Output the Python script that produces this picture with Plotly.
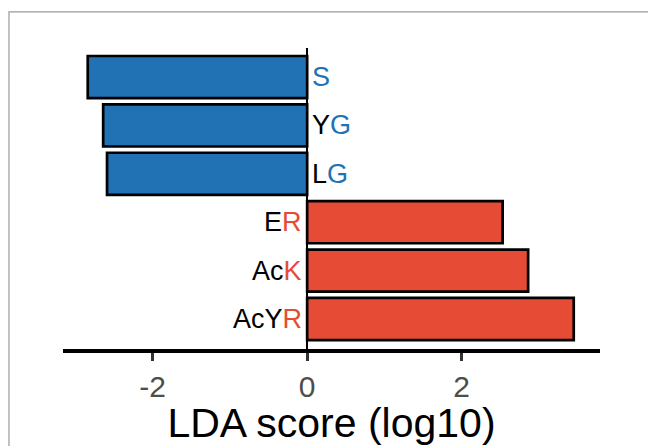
import plotly.graph_objects as go

# LEfSe-style LDA scores per feature (bottom to top)
features = ["AcYR", "AcK", "ER", "LG", "YG", "S"]
label_head = ["AcY", "Ac", "E", "L", "Y", ""]
label_tail = ["R", "K", "R", "G", "G", "S"]
lda_scores = [3.45, 2.86, 2.53, -2.59, -2.64, -2.84]

RED = "#E64B35"
BLUE = "#2171B5"
FONT = "Liberation Sans, Arial, Helvetica, sans-serif"

colors = [RED if v > 0 else BLUE for v in lda_scores]
ypos = list(range(len(features)))

fig = go.Figure()
fig.add_trace(go.Bar(
    x=lda_scores,
    y=ypos,
    orientation="h",
    width=0.87,
    marker=dict(color=colors, line=dict(color="black", width=2.7)),
    hoverinfo="x+text",
    hovertext=features,
    showlegend=False,
))

# Feature names next to the zero line, with the last letter in the group colour
for y, v, head, tail, c in zip(ypos, lda_scores, label_head, label_tail, colors):
    txt = f"<span style='color:black'>{head}</span><span style='color:{c}'>{tail}</span>" if head else f"<span style='color:{c}'>{tail}</span>"
    fig.add_annotation(
        x=0, y=y, xref="x", yref="y",
        text=txt, showarrow=False,
        xanchor="right" if v > 0 else "left",
        xshift=-3 if v > 0 else 3,
        yanchor="middle",
        font=dict(family=FONT, size=27, color="black"),
    )

# Panel border
fig.add_shape(type="rect", xref="paper", yref="paper",
              x0=-0.1006, x1=1.3, y0=-0.5, y1=1.1203,
              line=dict(color="#9A9A9A", width=1.2), fillcolor="rgba(0,0,0,0)", layer="below")

fig.update_layout(
    width=648, height=446,
    margin=dict(l=63, r=48, t=48, b=97, autoexpand=False),
    paper_bgcolor="white", plot_bgcolor="white",
    font=dict(family=FONT),
    xaxis=dict(
        range=[-3.16, 3.79],
        tickvals=[-2, 0, 2],
        ticktext=["-2", "0", "2"],
        showgrid=False,
        automargin=False,
        zeroline=True, zerolinecolor="black", zerolinewidth=2,
        showline=True, linecolor="black", linewidth=3.5,
        ticks="outside", ticklen=8, tickwidth=3, tickcolor="#333333",
        tickfont=dict(family=FONT, size=30, color="#4D4D4D"),
        title=dict(text="LDA score (log10)", font=dict(family=FONT, size=41, color="black"), standoff=17),
    ),
    yaxis=dict(
        range=[-0.62, 5.6],
        showgrid=False, zeroline=False, showline=False,
        showticklabels=False, ticks="",
        automargin=False,
    ),
)

fig.write_html("out.html")
